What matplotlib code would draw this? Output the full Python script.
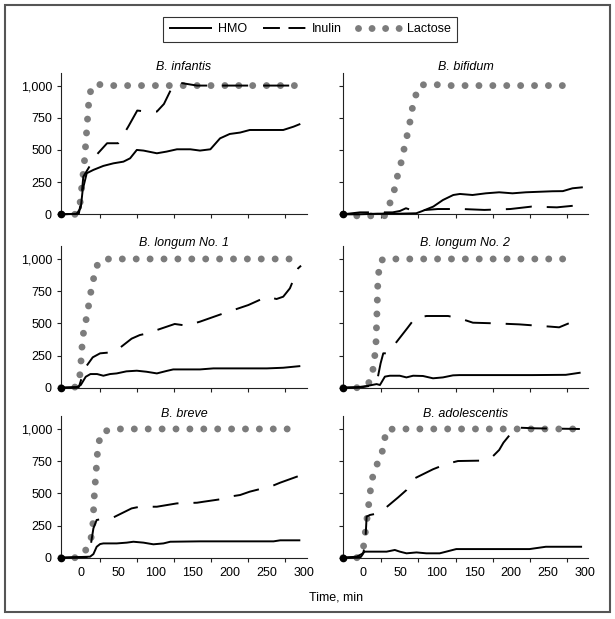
import matplotlib
matplotlib.use("Agg")
import matplotlib.pyplot as plt
from matplotlib.lines import Line2D
from matplotlib.patches import Rectangle
from matplotlib.ticker import FuncFormatter

plt.rcParams['font.family'] = ['Liberation Sans', 'DejaVu Sans']

# ---------------- data ----------------
titles = ["B. infantis", "B. bifidum", "B. longum No. 1", "B. longum No. 2", "B. breve", "B. adolescentis"]
series_names = ["HMO", "Inulin", "Lactose"]
y_ticks = [0, 250, 500, 750, 1000]
x_labels = [0, 50, 100, 150, 200, 250, 300]
x_marks = [25, 75, 125, 175, 225, 275]

# B. infantis
inf_hmo_t = [-27, -6, -0.4, 2.2, 7.6, 16.6, 30, 43.5, 57, 66, 75, 84, 102, 115, 129, 147, 160, 174, 187, 200, 214, 227, 241, 272, 286, 295]
inf_hmo_v = [0, 3, 50, 190, 319, 345, 376, 396, 409, 435, 500, 495, 474, 487, 505, 505, 495, 505, 590, 624, 635, 655, 655, 655, 681, 702]
inf_inu_t = [-27, -3, 0, 3, 20.7, 35, 50, 63.5, 75.6, 88, 102, 111.5, 124, 131, 142, 156, 300]
inf_inu_v = [0, 5, 100, 292, 461, 552, 552, 681, 806, 798, 798, 857, 1005, 1023, 1013, 1000, 1000]
inf_lac_t = [-27, -7, -1.3, 4.5, 8.5, 11.2, 18.8, 35, 296]
inf_lac_v = [0, 0, 90, 409, 725, 938, 1013, 1000, 1000]

# B. bifidum
bif_hmo_t = [-27, -5, 20, 50, 72, 80, 95, 108, 122, 131, 148, 166, 184, 202, 220, 238, 256, 270, 283, 297]
bif_hmo_v = [0, 0, 5, 5, 8, 25, 60, 111, 150, 158, 150, 163, 171, 163, 171, 175, 179, 180, 202, 210]
bif_inu_t = [-27, -4, 40, 50, 58, 65, 72, 101, 134, 164, 199, 228, 262, 294]
bif_inu_v = [0, 15, 15, 26, 47, 34, 28, 41, 41, 34, 41, 60, 54, 72]
bif_lac_t = [-27, -8, 29, 36, 42, 46, 51, 55, 59, 63, 66, 70, 78, 94, 112, 281]
bif_lac_v = [0, -12, -12, 80, 181, 285, 389, 495, 596, 702, 806, 909, 1005, 1010, 1000, 1000]

# B. longum No. 1
ln1_hmo_t = [-27, -6, -0.4, 6.3, 12.6, 21.6, 30, 39, 48, 61, 75, 88, 102, 115, 124, 142, 160, 178, 205, 250, 272, 295]
ln1_hmo_v = [0, 3, 21, 85, 106, 106, 93, 106, 111, 127, 132, 124, 111, 130, 142, 142, 142, 150, 150, 150, 155, 168]
ln1_inu_t = [-27, -3, 0, 5, 15.7, 25.6, 45, 68, 79, 93, 102, 126, 142, 160, 189, 205, 225, 250, 263, 272, 281, 292, 296]
ln1_inu_v = [0, 5, 60, 150, 236, 267, 277, 381, 409, 427, 448, 495, 482, 513, 572, 603, 642, 707, 689, 707, 772, 927, 948]
ln1_lac_t = [-27, -7, -1.3, 1.3, 3.1, 6.7, 9.9, 13, 16.6, 21, 28, 38, 280]
ln1_lac_v = [0, 5, 106, 319, 420, 526, 630, 738, 842, 945, 995, 1000, 1000]

# B. longum No. 2
ln2_hmo_t = [-27, -8.5, 4.9, 18.4, 22.9, 29.6, 36.3, 49.7, 58.7, 67.7, 81, 94.6, 108, 121.6, 130.5, 184, 229, 274, 294]
ln2_hmo_v = [0, 3, 13, 28, 21, 86, 93, 93, 80, 93, 91, 73, 80, 96, 98, 98, 98, 100, 117]
ln2_inu_t = [-27, 0, 15, 20, 23.8, 27.4, 32.8, 42.2, 59.7, 70, 85.7, 115, 130.5, 148.5, 177.6, 211, 254, 265, 278]
ln2_inu_v = [0, 5, 20, 80, 189, 267, 267, 332, 461, 539, 557, 557, 539, 505, 500, 492, 474, 469, 500]
ln2_lac_t = [-27, -7.6, 3, 7.2, 13, 15.7, 17.5, 18.4, 19.3, 19.7, 21, 22.4, 28, 35, 278]
ln2_lac_v = [0, 0, 10, 28, 124, 233, 340, 500, 662, 771, 877, 979, 1000, 1000, 1000]

# B. breve
brv_hmo_t = [-27, 12.1, 16.6, 21, 25.6, 30, 48, 61.5, 70.4, 84, 97.3, 110.8, 120, 160, 205, 259, 268, 295]
brv_hmo_v = [0, 8, 28, 85, 106, 111, 111, 117, 124, 117, 104, 111, 124, 127, 127, 127, 135, 135]
brv_inu_t = [-27, 8, 12, 16.6, 21, 25.6, 43.5, 68, 79, 102, 129, 156, 165, 196, 205, 214, 227, 257, 268, 293]
brv_inu_v = [0, 5, 60, 228, 293, 298, 313, 383, 396, 396, 422, 427, 435, 461, 479, 487, 513, 557, 583, 635]
brv_lac_t = [-27, -5.8, 4.5, 13, 15.7, 16.6, 17.5, 18.8, 20.2, 21.5, 22.9, 28.7, 46, 287]
brv_lac_v = [0, 0, 39, 137, 241, 345, 456, 562, 668, 772, 881, 979, 1000, 1000]

# B. adolescentis
ado_hmo_t = [-27, -8.5, -1.8, 2.7, 11.7, 31.9, 43, 49.8, 58.8, 72.3, 85.7, 103.6, 126, 139.6, 184, 225, 247, 296]
ado_hmo_v = [0, 8, 28, 47, 47, 47, 60, 47, 34, 41, 34, 34, 67, 67, 67, 67, 85, 85]
ado_inu_t = [-27, -3, 0, 3, 4.9, 9.4, 20.6, 28.3, 47.6, 58.8, 70, 94.6, 112.6, 128.3, 158.4, 175, 184, 189.8, 204.4, 211, 233.6, 293]
ado_inu_v = [0, 5, 30, 100, 319, 332, 345, 376, 469, 526, 617, 687, 728, 751, 754, 785, 837, 894, 997, 1010, 1005, 1000]
ado_lac_t = [-27, -7.6, 0.4, 2.7, 4.9, 7.2, 9.4, 11.7, 16.6, 25.1, 28.3, 31.9, 47, 293]
ado_lac_v = [0, 0, 73, 176, 280, 389, 492, 598, 697, 798, 894, 997, 1000, 1000]

panels = [
    (inf_hmo_t, inf_hmo_v, inf_inu_t, inf_inu_v, inf_lac_t, inf_lac_v),
    (bif_hmo_t, bif_hmo_v, bif_inu_t, bif_inu_v, bif_lac_t, bif_lac_v),
    (ln1_hmo_t, ln1_hmo_v, ln1_inu_t, ln1_inu_v, ln1_lac_t, ln1_lac_v),
    (ln2_hmo_t, ln2_hmo_v, ln2_inu_t, ln2_inu_v, ln2_lac_t, ln2_lac_v),
    (brv_hmo_t, brv_hmo_v, brv_inu_t, brv_inu_v, brv_lac_t, brv_lac_v),
    (ado_hmo_t, ado_hmo_v, ado_inu_t, ado_inu_v, ado_lac_t, ado_lac_v),
]

# ---------------- styles ----------------
W, H = 615, 619
fig = plt.figure(figsize=(W / 100, H / 100), dpi=100)

GRAY = '#7c7c7c'
hmo_style = dict(color='black', lw=1.4, solid_capstyle='butt')
inu_style = dict(color='black', lw=1.4, linestyle=(0, (13.4, 7.7)), dash_capstyle='butt')
lac_style = dict(color=GRAY, lw=5.0, linestyle=(0, (0.001, 2.0)), dash_capstyle='round')
inu_leg_style = dict(color='black', lw=1.4, linestyle=(0, (8.7, 4.4)), dash_capstyle='butt')
lac_leg_style = dict(color=GRAY, lw=5.0, linestyle=(0, (0.001, 1.95)), dash_capstyle='round')

col_x = [61, 343]
col_w = [246, 245]
row_bottom = [214.3, 387.7, 557.7]
row_h = 141.6
title_y = [67, 243, 414]

fmt = FuncFormatter(lambda v, p: f"{int(v):,}")

for i, (title, data) in enumerate(zip(titles, panels)):
    r, c = divmod(i, 2)
    ax = fig.add_axes([col_x[c] / W, 1 - row_bottom[r] / H, col_w[c] / W, row_h / H])
    ht, hv, it, iv, lt, lv = data
    ax.plot(lt, lv, clip_on=False, zorder=2, **lac_style)
    ax.plot(it, iv, clip_on=False, zorder=3, **inu_style)
    ax.plot(ht, hv, clip_on=False, zorder=4, **hmo_style)
    ax.plot([ht[0]], [hv[0]], 'o', color='black', ms=4.5, clip_on=False, zorder=5)
    ax.set_xlim(-27, 304)
    ax.set_ylim(0, 1100)
    for s in ['top', 'right']:
        ax.spines[s].set_visible(False)
    for s in ['left', 'bottom']:
        ax.spines[s].set_linewidth(0.8)
        ax.spines[s].set_color('#222222')
    ax.set_yticks(y_ticks)
    ax.yaxis.set_major_formatter(fmt)
    ax.tick_params(axis='y', direction='out', length=3, width=0.8, pad=3.5, labelsize=9, color='#222222')
    if c == 1:
        ax.tick_params(axis='y', labelleft=False)
    ax.set_xticks(x_marks)
    ax.set_xticklabels([])
    ax.set_xticks(x_labels, minor=True)
    ax.tick_params(axis='x', which='major', direction='out', length=3, width=0.8, color='#222222')
    ax.tick_params(axis='x', which='minor', length=0, pad=7, labelsize=9)
    if r == 2:
        ax.set_xticklabels([str(v) for v in x_labels], minor=True)
    else:
        ax.set_xticklabels([], minor=True)
    fig.text((col_x[c] + col_w[c] / 2) / W, 1 - title_y[r] / H, title, ha='center', va='center',
             fontsize=9, style='italic')

fig.text(336 / W, 1 - 597 / H, "Time, min", ha='center', va='center', fontsize=9)

handles = [Line2D([], [], **hmo_style), Line2D([], [], **inu_leg_style), Line2D([], [], **lac_leg_style)]
leg = fig.legend(handles, series_names, loc='center', bbox_to_anchor=(310 / W, 1 - 29.5 / H),
                 ncol=3, fontsize=9, frameon=True, fancybox=False, handlelength=3.45,
                 handletextpad=0.45, columnspacing=1.3, borderpad=0.5, borderaxespad=0,
                 edgecolor='black')
leg.get_frame().set_linewidth(0.8)

fig.patches.append(Rectangle((5 / W, 1 - 612 / H), 605 / W, 607 / H, transform=fig.transFigure,
                             fill=False, edgecolor='#555555', lw=1.5))

fig.savefig('out.png', dpi=100)
